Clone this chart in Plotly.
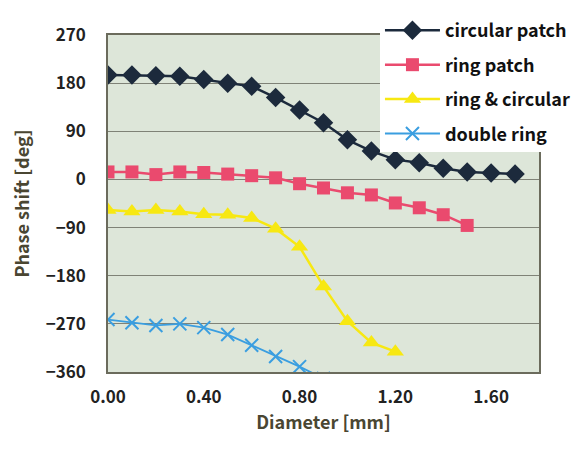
import plotly.graph_objects as go

diam_circ = [0.0, 0.1, 0.2, 0.3, 0.4, 0.5, 0.6, 0.7, 0.8, 0.9, 1.0, 1.1, 1.2, 1.3, 1.4, 1.5, 1.6, 1.7]
circular_patch = [195, 195, 194, 193, 187, 180, 174, 153, 130, 106, 74, 53, 37, 31, 21, 14, 12, 10]

diam_ring = [0.0, 0.1, 0.2, 0.3, 0.4, 0.5, 0.6, 0.7, 0.8, 0.9, 1.0, 1.1, 1.2, 1.3, 1.4, 1.5]
ring_patch = [14, 14, 9, 14, 13, 10, 7, 3, -8, -16, -25, -29, -44, -53, -66, -86]

diam_rc = [0.0, 0.1, 0.2, 0.3, 0.4, 0.5, 0.6, 0.7, 0.8, 0.9, 1.0, 1.1, 1.2]
ring_circular = [-57, -60, -57, -60, -65, -66, -72, -92, -126, -200, -265, -305, -322]

diam_dr = [0.0, 0.1, 0.2, 0.3, 0.4, 0.5, 0.6, 0.7, 0.8, 0.9]
double_ring = [-262, -268, -273, -270, -277, -290, -310, -331, -350, -372]

x_ticks = [0.0, 0.4, 0.8, 1.2, 1.6]
y_ticks = [270, 180, 90, 0, -90, -180, -270, -360]

fig = go.Figure()
fig.add_trace(go.Scatter(x=diam_circ, y=circular_patch, name="circular patch", legendgroup="a",
                         mode="lines+markers", line=dict(color="#1c2a3c", width=2.5),
                         marker=dict(symbol="diamond", size=15, color="#1c2a3c")))
fig.add_trace(go.Scatter(x=diam_ring, y=ring_patch, name="ring patch", legendgroup="b",
                         mode="lines+markers", line=dict(color="#ea4a6e", width=2.5),
                         marker=dict(symbol="square", size=13, color="#ea4a6e")))
fig.add_trace(go.Scatter(x=diam_rc, y=ring_circular, name="ring & circular", legendgroup="c",
                         mode="lines+markers", line=dict(color="#f7e812", width=2.5),
                         marker=dict(symbol="triangle-up", size=15, color="#f7e812")))
fig.add_trace(go.Scatter(x=diam_dr, y=double_ring, name="double ring", legendgroup="d",
                         mode="lines+markers", line=dict(color="#3a9ee0", width=1.8),
                         marker=dict(symbol="x-thin-open", size=13, color="#3a9ee0",
                                     line=dict(color="#3a9ee0", width=2))))

tick_font = dict(family="Noto Sans CJK JP", size=17, color="#222222", weight=700)
title_font = dict(family="Noto Sans CJK JP", size=18, color="#4a4632", weight=600)

# page body adds an 8px margin, so the figure is 8px smaller than the window
fig.update_layout(
    width=574, height=443,
    margin=dict(l=100, r=43, t=27, b=79, autoexpand=False),
    paper_bgcolor="white",
    plot_bgcolor="#dde6d9",
    showlegend=True,
    legend=dict(
        x=0.631, xanchor="left", y=1.068, yanchor="top",
        bgcolor="white", borderwidth=0,
        font=dict(family="Noto Sans CJK JP", size=18, color="#111111", weight=700),
        tracegroupgap=8, itemwidth=55,
    ),
    xaxis=dict(
        range=[0, 1.8], tickvals=x_ticks, ticktext=[f"{v:.2f}" for v in x_ticks],
        showgrid=False, zeroline=False, showline=True, linecolor="#6b6b5c", linewidth=1.5,
        mirror=True, ticks="outside", ticklen=9, tickcolor="rgba(0,0,0,0)", tickfont=tick_font,
        title=dict(text="Diameter [mm]", font=title_font, standoff=8),
    ),
    yaxis=dict(
        range=[-360, 270], tickvals=y_ticks, ticktext=[str(v).replace("-", "\u2212") for v in y_ticks],
        showgrid=True, gridcolor="#7f8277", gridwidth=1, zeroline=False,
        showline=True, linecolor="#6b6b5c", linewidth=1.5, mirror=True,
        ticks="outside", ticklen=17, tickcolor="rgba(0,0,0,0)",
        tickfont=tick_font,
        title=dict(text="Phase shift [deg]", font=title_font, standoff=12),
    ),
)

fig.write_html("out.html")
